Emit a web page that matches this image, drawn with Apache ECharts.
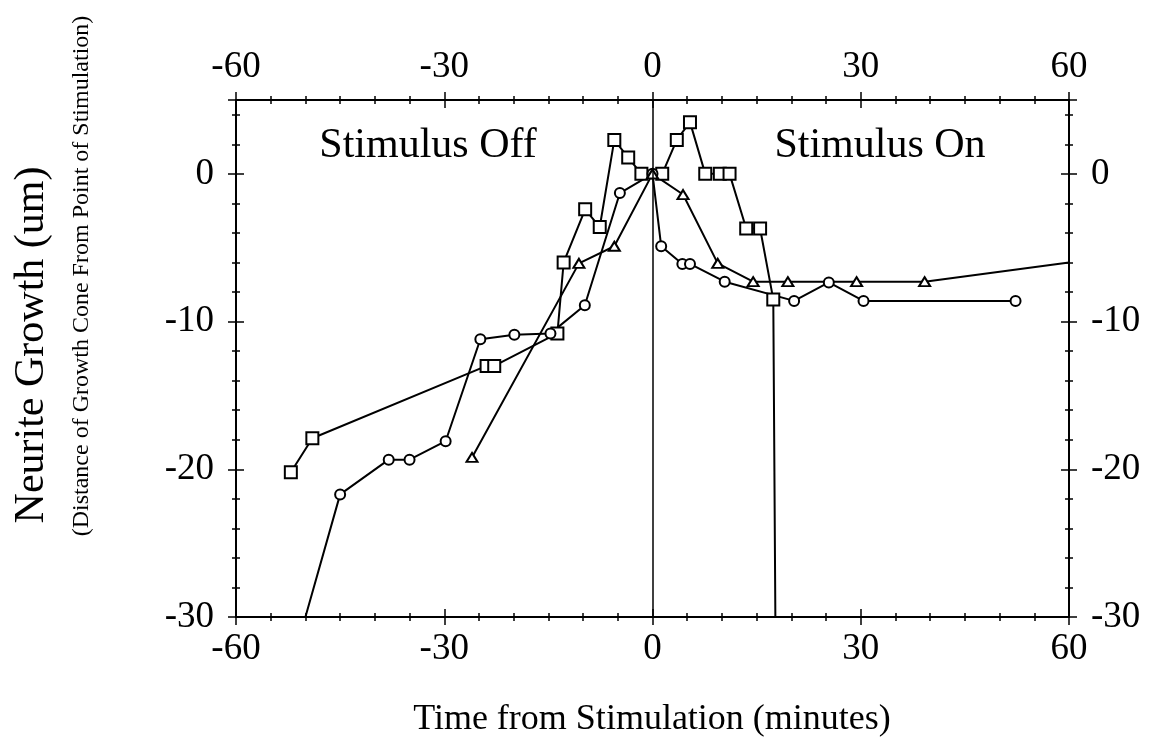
<!DOCTYPE html>
<html>
<head>
<meta charset="utf-8">
<script src="https://cdn.jsdelivr.net/npm/echarts@6/dist/echarts.min.js"></script>
<style>
  body { margin: 0; background: #fff; }
  #chart { width: 1154px; height: 744px; }
</style>
</head>
<body>
<div id="chart"></div>
<script>
// time (minutes) and growth (um)
var squareT = [-52.1, -49.0, -23.9, -22.8, -13.7, -12.8, -9.7, -7.6, -5.5, -3.5, -1.6, 1.4, 3.5, 5.4, 7.6, 9.7, 11.1, 13.5, 15.5, 17.4, 17.7];
var squareY = [-20.2, -17.9, -13.0, -13.0, -10.8, -6.0, -2.4, -3.6, 2.3, 1.1, 0, 0, 2.3, 3.5, 0, 0, 0, -3.7, -3.7, -8.5, -30];
var circleT = [-50, -45, -38, -35, -29.8, -24.8, -19.9, -14.7, -9.75, -4.7, 0, 1.25, 4.3, 5.4, 10.4, 20.4, 25.4, 30.4, 52.3];
var circleY = [-30, -21.7, -19.35, -19.35, -18.1, -11.2, -10.9, -10.8, -8.9, -1.3, 0, -4.9, -6.1, -6.1, -7.3, -8.6, -7.35, -8.6, -8.6];
var triT = [-26, -10.6, -5.5, 0, 4.4, 9.4, 14.5, 19.5, 29.4, 39.2, 60];
var triY = [-19.2, -6.06, -4.9, 0, -1.4, -6.06, -7.3, -7.3, -7.3, -7.3, -6.0];
var xTicks = [-60, -30, 0, 30, 60];
var yTicks = [-30, -20, -10, 0];

var serif = "'Liberation Serif', 'Times New Roman', serif";

// points that are only line ends (no marker)
function pts(t, y, bare) {
  return t.map(function (v, i) {
    if (bare.indexOf(i) >= 0) return { value: [v, y[i]], symbol: 'none' };
    return [v, y[i]];
  });
}

function xAx(pos, inside, label) {
  return {
    type: 'value', position: pos, min: xTicks[0], max: xTicks[xTicks.length - 1], interval: 30,
    axisLine: { show: true, onZero: false, lineStyle: { color: '#000', width: 2 } },
    axisTick: { show: true, inside: inside, length: 8, lineStyle: { color: '#000', width: 1.5 } },
    minorTick: { show: true, splitNumber: 6, length: 4, lineStyle: { color: '#000', width: 1.5 } },
    splitLine: { show: false },
    axisLabel: { show: label, color: '#000', fontFamily: serif, fontSize: 37, margin: 14,
      showMinLabel: true, showMaxLabel: true }
  };
}

function yAx(pos, inside, label, step, len) {
  return {
    type: 'value', position: pos, min: yTicks[0], max: 5, interval: step,
    axisLine: { show: true, onZero: false, lineStyle: { color: '#000', width: 2 } },
    axisTick: { show: true, inside: inside, length: len, lineStyle: { color: '#000', width: 1.5 } },
    splitLine: { show: false },
    axisLabel: { show: label, color: '#000', fontFamily: serif, fontSize: 37, margin: 22,
      formatter: function (v) { return yTicks.indexOf(v) >= 0 ? String(v) : ''; } }
  };
}

var chart = echarts.init(document.getElementById('chart'));
var lineStyle = { color: '#000', width: 2 };
var itemStyle = { color: '#000' };

chart.setOption({
  animation: false,
  backgroundColor: '#fff',
  grid: { left: 236, right: 85, top: 100, bottom: 127 },
  xAxis: [
    xAx('bottom', true, true), xAx('bottom', false, false),
    xAx('top', true, true), xAx('top', false, false)
  ],
  yAxis: [
    yAx('left', true, true, 10, 8), yAx('left', false, false, 10, 8),
    yAx('left', true, false, 2, 4), yAx('left', false, false, 2, 4),
    yAx('right', true, true, 10, 8), yAx('right', false, false, 10, 8),
    yAx('right', true, false, 2, 4), yAx('right', false, false, 2, 4)
  ],
  series: [
    {
      name: 'squares', type: 'line', data: pts(squareT, squareY, [squareT.length - 1]),
      symbol: 'emptyRect', symbolSize: 12, lineStyle: lineStyle, itemStyle: itemStyle
    },
    {
      name: 'circles', type: 'line', data: pts(circleT, circleY, [0]),
      symbol: 'emptyCircle', symbolSize: 10, lineStyle: lineStyle, itemStyle: itemStyle
    },
    {
      name: 'triangles', type: 'line', data: pts(triT, triY, [triT.length - 1]),
      symbol: 'emptyTriangle', symbolSize: [11, 9], lineStyle: lineStyle, itemStyle: itemStyle,
      markLine: {
        silent: true, symbol: ['none', 'none'], label: { show: false },
        lineStyle: { color: '#000', width: 1.5, type: 'solid' },
        data: [{ xAxis: 0 }]
      }
    }
  ],
  graphic: [
    { type: 'text', x: 428, y: 146, style: { text: 'Stimulus Off', fontSize: 42, fontFamily: serif, fill: '#000', align: 'center', verticalAlign: 'middle' } },
    { type: 'text', x: 880, y: 146, style: { text: 'Stimulus On', fontSize: 42, fontFamily: serif, fill: '#000', align: 'center', verticalAlign: 'middle' } },
    { type: 'text', x: 652, y: 720, style: { text: 'Time from Stimulation (minutes)', fontSize: 36, fontFamily: serif, fill: '#000', align: 'center', verticalAlign: 'middle' } },
    { type: 'text', x: 32, y: 345, rotation: Math.PI / 2, style: { text: 'Neurite Growth (um)', fontSize: 42, fontFamily: serif, fill: '#000', align: 'center', verticalAlign: 'middle' } },
    { type: 'text', x: 82, y: 276, rotation: Math.PI / 2, style: { text: '(Distance of Growth Cone From Point of Stimulation)', fontSize: 24, fontFamily: serif, fill: '#000', align: 'center', verticalAlign: 'middle' } }
  ]
});
</script>
</body>
</html>
